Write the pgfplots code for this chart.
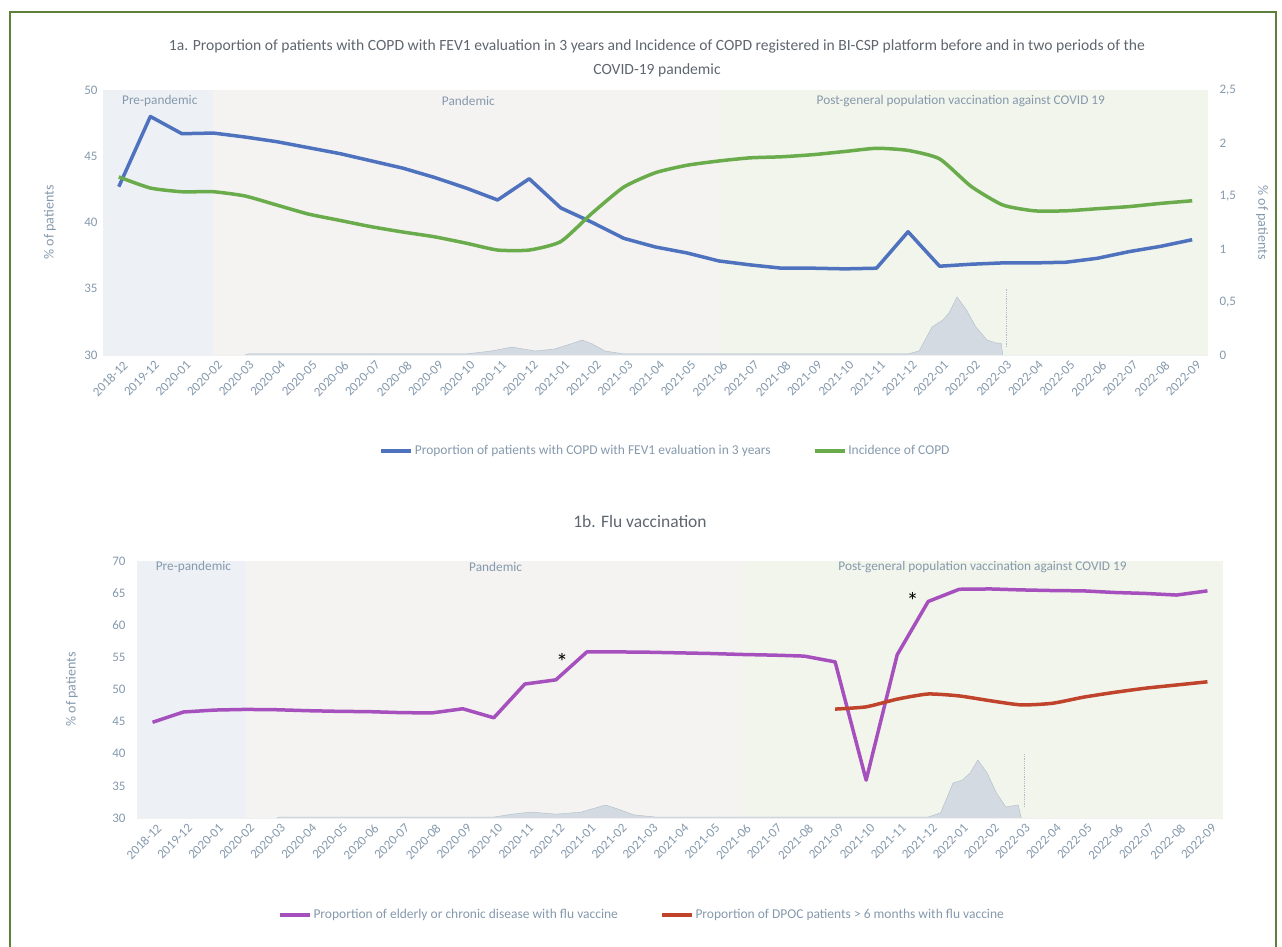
\documentclass[border=0pt]{standalone}
\usepackage{pgfplots}
\pgfplotsset{compat=1.18}
\usepackage{fontspec}
\setmainfont{Carlito}
\definecolor{cblue}{HTML}{4F72BE}
\definecolor{cgreen}{HTML}{6AAB4C}
\definecolor{cpurple}{HTML}{A650BE}
\definecolor{cred}{HTML}{C0432C}
\definecolor{bgpre}{HTML}{EDF1F6}
\definecolor{bgpan}{HTML}{F4F3F2}
\definecolor{bgpost}{HTML}{F2F5EC}
\definecolor{txt}{HTML}{8599AC}
\definecolor{ttl}{HTML}{5E666E}
\definecolor{frm}{HTML}{5C7F3A}
\definecolor{hist}{HTML}{D3DAE1}
\definecolor{histl}{HTML}{AFBCC9}
\pgfplotsset{
  base/.style={
    scale only axis, xmin=-0.5, xmax=34.5,
    xtick={0,...,34},
    xticklabels={2018-12,2019-12,2020-01,2020-02,2020-03,2020-04,2020-05,2020-06,2020-07,2020-08,2020-09,2020-10,2020-11,2020-12,2021-01,2021-02,2021-03,2021-04,2021-05,2021-06,2021-07,2021-08,2021-09,2021-10,2021-11,2021-12,2022-01,2022-02,2022-03,2022-04,2022-05,2022-06,2022-07,2022-08,2022-09},
    x tick label style={rotate=45, anchor=north east, font=\fontsize{13}{15}\selectfont, text=txt, inner sep=1pt, yshift=-5pt},
    y tick label style={font=\fontsize{13}{15}\selectfont, text=txt},
    /pgf/number format/assume math mode=true,
    axis line style={draw=none},
    major tick length=0pt,
    ylabel style={font=\fontsize{14}{16}\selectfont, text=txt},
    clip=false,
  },
  leg/.style={
    legend style={draw=none, fill=none, font=\fontsize{13.5}{16}\selectfont, text=txt,
      /tikz/every even column/.append style={column sep=40pt}},
    legend columns=2,
    legend cell align=left,
    legend image code/.code={\draw[##1] (0pt,0pt) -- (30pt,0pt);},
  }
}
\begin{document}
\begin{tikzpicture}[x=1pt,y=1pt]
\path[use as bounding box] (0,0) rectangle (1282,947);
\draw[frm, line width=2pt] (10,-2) -- (10,935) -- (1276,935) -- (1276,-2);
\node[ttl, font=\fontsize{15.6}{24}\selectfont, align=center] at (657,889)
  {1a. Proportion of patients with COPD with FEV1 evaluation in 3 years and Incidence of COPD registered in BI-CSP platform before and in two periods of the\\COVID-19 pandemic};
\node[ttl, font=\fontsize{17.5}{20}\selectfont] at (640,426) {1b. Flu vaccination};

% ---------- top chart, left axis
\begin{axis}[base, at={(103pt,592pt)}, anchor=south west, width=1105pt, height=265pt,
  ymin=30, ymax=50, ytick={30,35,...,50},
  ymajorgrids, grid style={color=black!6},
  ylabel={\% of patients},
  ylabel style={at={(axis description cs:-0.048,0.5)}, anchor=center},
  y tick label style={xshift=-2pt}]
\fill[bgpre] (axis cs:-0.5,30) rectangle (axis cs:3,50);
\fill[bgpan] (axis cs:3,30) rectangle (axis cs:19,50);
\fill[bgpost] (axis cs:19,30) rectangle (axis cs:34.5,50);
\node[anchor=west, text=txt, font=\fontsize{13.3}{15}\selectfont, inner sep=0pt] at (axis cs:0.1,49.15) {Pre-pandemic};
\node[anchor=west, text=txt, font=\fontsize{13.3}{15}\selectfont, inner sep=0pt] at (axis cs:10.23,49.15) {Pandemic};
\node[anchor=west, text=txt, font=\fontsize{13.3}{15}\selectfont, inner sep=0pt] at (axis cs:22.1,49.15) {Post-general population vaccination against COVID 19};
\addplot[fill=hist, draw=histl, line width=0.4pt] coordinates {
(4.0,30) (4.1,30.08) (11.0,30.08) (11.8,30.3) (12.45,30.6) (13.2,30.3) (13.8,30.45) (14.4,30.9) (14.67,31.13) (15.0,30.83) (15.4,30.3) (16.0,30.08) (25.0,30.08) (25.35,30.3) (25.76,32.11) (26.1,32.64) (26.3,33.17) (26.55,34.38) (26.85,33.4) (27.15,32.11) (27.5,31.13) (27.8,30.9) (27.95,30.9) (28.0,30)};
\addplot[densely dotted, histl, line width=0.8pt] coordinates {(28.1,30.6) (28.1,35.06)};
\addplot[cblue, line width=3.5pt, line join=round] coordinates {
(0,42.7) (1,48.0) (2,46.7) (3,46.75) (4,46.45) (5,46.1) (6,45.65) (7,45.2) (8,44.65) (9,44.1) (10,43.4) (11,42.6) (12,41.7) (13,43.3) (14,41.1) (15,40.0) (16,38.8) (17,38.15) (18,37.7) (19,37.1) (20,36.8) (21,36.55) (22,36.55) (23,36.5) (24,36.55) (25,39.3) (26,36.7) (27,36.85) (28,36.95) (29,36.95) (30,37.0) (31,37.3) (32,37.8) (33,38.2) (34,38.7)};
\end{axis}

% ---------- top chart, right axis
\begin{axis}[base, leg, at={(103pt,592pt)}, anchor=south west, width=1105pt, height=265pt,
  hide x axis, axis y line*=right,
  ymin=0, ymax=2.5, ytick={0,0.5,1,1.5,2,2.5},
  yticklabels={0,{0,5},1,{1,5},2,{2,5}},
  y tick label style={xshift=8pt},
  ylabel={\% of patients},
  ylabel style={at={(axis description cs:1.049,0.5)}, anchor=center, rotate=180},
  legend style={at={(axis description cs:0.509,-0.362)}, anchor=center}]
\addlegendimage{cblue, line width=3.5pt}
\addlegendentry{Proportion of patients with COPD with FEV1 evaluation in 3 years}
\addplot[cgreen, line width=3.5pt, smooth, tension=0.35] coordinates {
(0,1.68) (1,1.575) (2,1.54) (3,1.54) (4,1.50) (5,1.415) (6,1.33) (7,1.27) (8,1.21) (9,1.16) (10,1.115) (11,1.055) (12,0.99) (13,0.99) (14,1.07) (15,1.34) (16,1.585) (17,1.72) (18,1.79) (19,1.83) (20,1.86) (21,1.87) (22,1.89) (23,1.92) (24,1.95) (25,1.93) (26,1.85) (27,1.59) (28,1.415) (29,1.36) (30,1.36) (31,1.38) (32,1.40) (33,1.43) (34,1.455)};
\addlegendentry{Incidence of COPD}
\end{axis}

% ---------- bottom chart
\begin{axis}[base, leg, at={(137pt,129pt)}, anchor=south west, width=1086pt, height=257pt,
  ymin=30, ymax=70, ytick={30,35,...,70},
  ymajorgrids, grid style={color=black!6},
  ylabel={\% of patients},
  ylabel style={at={(axis description cs:-0.060,0.5)}, anchor=center},
  y tick label style={xshift=-8pt},
  legend style={at={(axis description cs:0.465,-0.377)}, anchor=center}]
\fill[bgpre] (axis cs:-0.5,30) rectangle (axis cs:3,70);
\fill[bgpan] (axis cs:3,30) rectangle (axis cs:19,70);
\fill[bgpost] (axis cs:19,30) rectangle (axis cs:34.5,70);
\node[anchor=west, text=txt, font=\fontsize{13.3}{15}\selectfont, inner sep=0pt] at (axis cs:0.1,69.0) {Pre-pandemic};
\node[anchor=west, text=txt, font=\fontsize{13.3}{15}\selectfont, inner sep=0pt] at (axis cs:10.2,69.0) {Pandemic};
\node[anchor=west, text=txt, font=\fontsize{13.3}{15}\selectfont, inner sep=0pt] at (axis cs:22.1,69.0) {Post-general population vaccination against COVID 19};
\addplot[fill=hist, draw=histl, line width=0.4pt, forget plot] coordinates {
(4.0,30) (4.1,30.15) (11.0,30.15) (11.6,30.6) (12.2,30.93) (13.0,30.6) (13.8,30.9) (14.3,31.6) (14.6,32.02) (15.0,31.4) (15.5,30.5) (16.2,30.15) (25.0,30.15) (25.4,30.8) (25.8,35.45) (26.1,35.9) (26.35,37.0) (26.6,39.03) (26.9,37.0) (27.2,33.9) (27.5,31.71) (27.9,32.02) (28.0,30)};
\addplot[densely dotted, histl, line width=0.8pt, forget plot] coordinates {(28.1,31.7) (28.1,40.1)};
\addplot[cpurple, line width=3.5pt, line join=round] coordinates {
(0,44.9) (1,46.5) (2,46.8) (3,46.9) (4,46.85) (5,46.7) (6,46.6) (7,46.55) (8,46.4) (9,46.35) (10,47.0) (11,45.6) (12,50.85) (13,51.5) (14,55.85) (15,55.85) (16,55.8) (17,55.7) (18,55.6) (19,55.45) (20,55.35) (21,55.2) (22,54.3) (23,35.9) (24,55.4) (25,63.7) (26,65.6) (27,65.65) (28,65.5) (29,65.4) (30,65.35) (31,65.1) (32,64.95) (33,64.7) (34,65.35)};
\addlegendentry{Proportion of elderly or chronic disease with flu vaccine}
\addplot[cred, line width=3.5pt, smooth, tension=0.35] coordinates {
(22,46.95) (23,47.3) (24,48.5) (25,49.3) (26,49.0) (27,48.25) (28,47.6) (29,47.85) (30,48.8) (31,49.55) (32,50.2) (33,50.7) (34,51.2)};
\addlegendentry{Proportion of DPOC patients > 6 months with flu vaccine}
\node[font=\fontsize{24}{26}\selectfont] at (axis cs:13.2,54.3) {*};
\node[font=\fontsize{24}{26}\selectfont] at (axis cs:24.5,63.7) {*};
\end{axis}
\end{tikzpicture}
\end{document}
